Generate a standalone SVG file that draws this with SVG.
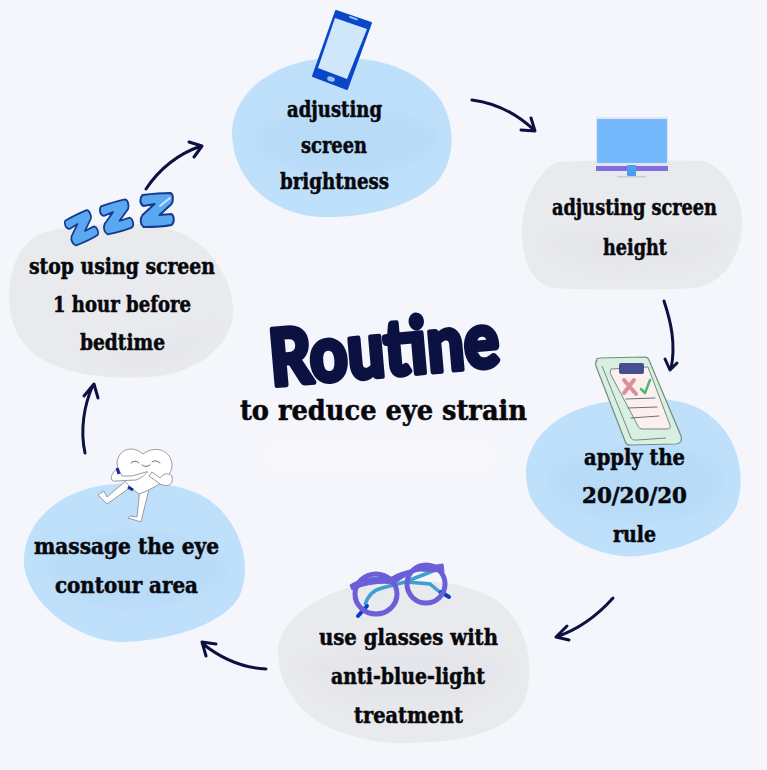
<svg xmlns="http://www.w3.org/2000/svg" width="767" height="770" viewBox="0 0 767 770">
<style>
.blue{fill:#bfe0fa}
.blue2{fill:#b0d6f7;opacity:.4;filter:url(#wash)}
.gray{fill:#e9eaee}
.gray2{fill:#e3e4e9;opacity:.5;filter:url(#wash)}
.t{font-family:"DejaVu Serif","Liberation Serif",serif;font-weight:700;font-size:21.500px;fill:#08080c;stroke:#08080c;stroke-width:.55px}
.arrow{fill:none;stroke:#0d1140;stroke-width:3px;stroke-linecap:round;stroke-linejoin:round}
.z{fill:#5ba8f2;stroke:#16398f;stroke-width:2px;stroke-linejoin:round}
.body{fill:#fff;stroke:#9a9aa6;stroke-width:1px;stroke-linejoin:round}
.thin{fill:none;stroke:#6f6f7c;stroke-width:1px;stroke-linecap:round}
</style>
<defs>
<path id="zed" d="M-14-15C-6-16 6-17 14-17C17-16 17-9 15-6L3 5L15 4C18 6 18 13 15 15C6 17-4 17-13 17C-16 15-17 9-14 5L-2-6L-13-4C-17-6-17-12-14-15Z"/>
<filter id="soft" x="-20%" y="-40%" width="140%" height="180%"><feGaussianBlur stdDeviation="8"/></filter>
<filter id="wash" x="-10%" y="-20%" width="120%" height="140%"><feGaussianBlur stdDeviation="5"/></filter>
</defs>
<rect width="767" height="770" fill="#f4f6fc"/>
<rect x="262" y="436" width="235" height="40" rx="18" fill="#f8f8fb" filter="url(#soft)"/>

<g id="connectors" class="arrow">
<path d="M472 100C495 103 517 114 534 130M521 130L535 131L531 118"/>
<path d="M664 301C671 322 676 344 671 369M665 359L670 370L677 363"/>
<path d="M613 598C596 617 577 630 556 637M567 626L556 637L569 640"/>
<path d="M266 669C244 668 222 659 203 644M216 644L202 642L206 656"/>
<path d="M85 453C80 430 84 405 93 385M84 396L94 384L98 398"/>
<path d="M146 189C160 168 178 154 201 146M189 142L202 146L194 157"/>
</g>

<g id="node-brightness">
<path class="blue" d="M232 135C231 100 262 66 318 59C372 53 420 68 442 102C456 128 455 162 436 183C412 207 365 218 322 217C272 215 234 182 232 135Z"/>
<path class="blue2" d="M250 135C265 115 300 108 340 108C385 108 420 115 440 135C430 160 395 175 340 175C295 175 260 160 250 135Z"/>
<polygon points="336,11 371,23 347,89 313,76" fill="#0a46c8" stroke="#0a46c8" stroke-width="2" stroke-linejoin="round"/>
<polygon points="335,18 367,29 347,79 318,68" fill="#cfe6fb"/>
<rect x="349" y="17" width="9" height="2" rx="1" transform="rotate(20 353 18)" fill="#9cc0f0"/>
<ellipse cx="331" cy="79" rx="4" ry="2.500" transform="rotate(20 331 79)" fill="#9cc0f0"/>
<text class="t" x="334.500" y="117" text-anchor="middle" textLength="95" lengthAdjust="spacingAndGlyphs">adjusting</text>
<text class="t" x="334" y="153" text-anchor="middle" textLength="66" lengthAdjust="spacingAndGlyphs">screen</text>
<text class="t" x="334.500" y="189" text-anchor="middle" textLength="109" lengthAdjust="spacingAndGlyphs">brightness</text>
</g>

<g id="node-height">
<path class="gray" d="M522 232C521 205 536 172 558 162C600 160 660 160 705 161C725 170 742 195 742 222C742 250 728 282 695 288C650 290 600 290 552 288C532 282 522 262 522 232Z"/>
<path class="gray2" d="M545 240C570 228 620 226 640 232C680 228 710 230 725 240C710 262 680 270 640 270C590 272 560 260 545 240Z"/>
<rect x="596" y="117" width="72" height="54" rx="1" fill="#dfe4f6"/>
<rect x="597" y="119" width="70" height="44" rx="1" fill="#75b8fb"/>
<rect x="596" y="166" width="72" height="5" fill="#7e6fdc"/>
<rect x="627" y="165" width="9" height="11" rx="1" fill="#4d9df0"/>
<rect x="617" y="176" width="29" height="1.500" fill="#c9ccd6"/>
<text class="t" x="634.500" y="215" text-anchor="middle" textLength="165" lengthAdjust="spacingAndGlyphs">adjusting screen</text>
<text class="t" x="635" y="255" text-anchor="middle" textLength="64" lengthAdjust="spacingAndGlyphs">height</text>
</g>

<g id="node-rule">
<path class="blue" d="M526 470C528 440 555 412 600 403C640 396 690 394 715 420C738 440 746 475 737 505C725 535 680 550 640 556C600 560 555 535 535 505C528 495 526 485 526 470Z"/>
<path class="blue2" d="M548 478C565 452 610 445 650 445C690 445 715 458 725 480C715 510 685 522 640 522C595 522 560 508 548 478Z"/>
<path d="M597 360Q596 358 600 358L645 357Q648 357 649 360L681 436Q683 443 676 444L630 445Q626 445 625 441L596 366Q595 362 597 360Z" fill="#d8efe2" stroke="#6f8f80" stroke-width="1.200"/>
<path d="M611 369L648 367L670 425Q671 429 667 429L642 429Q639 429 638 426L610 373Z" fill="#fbeff0" stroke="#6f8f80" stroke-width="1"/>
<path d="M602 366L631 438Q633 441 637 440L666 438" fill="none" stroke="#6f8f80" stroke-width="1"/>
<rect x="619" y="363" width="25" height="11" rx="2" fill="#474f93"/>
<path d="M624 380L636 394M634 380L624 393" fill="none" stroke="#d98f98" stroke-width="4" stroke-linecap="round"/>
<path d="M641 389L645 393L650 380" fill="none" stroke="#4fb878" stroke-width="2.500" stroke-linecap="round" stroke-linejoin="round"/>
<path class="thin" d="M626 399L655 398M628 408L657 407M631 418L659 416"/>
<text class="t" x="634.500" y="465" text-anchor="middle" textLength="101" lengthAdjust="spacingAndGlyphs">apply the</text>
<text class="t" x="634.500" y="503" text-anchor="middle" textLength="105" lengthAdjust="spacingAndGlyphs">20/20/20</text>
<text class="t" x="634.500" y="542" text-anchor="middle" textLength="43" lengthAdjust="spacingAndGlyphs">rule</text>
</g>

<g id="node-glasses">
<path class="gray" d="M278 650C280 620 320 590 370 583C420 578 475 580 505 607C528 630 535 670 525 700C510 730 470 742 410 743C360 745 310 725 295 700C283 685 278 670 278 650Z"/>
<path class="gray2" d="M300 665C325 645 380 640 420 645C470 645 500 652 512 670C500 698 460 712 410 714C360 714 315 695 300 665Z"/>
<path d="M365 605C368 595 373 590 382 588L405 582L438 569" fill="none" stroke="#3f9fd0" stroke-width="3.500"/>
<path d="M407 582L430 584L442 594" fill="none" stroke="#3f9fd0" stroke-width="3.500"/>
<path d="M358 616L367 606M441 592L449 597" fill="none" stroke="#0a3cc0" stroke-width="4" stroke-linecap="round"/>
<ellipse cx="376" cy="594" rx="21" ry="20" fill="none" stroke="#6a5fd8" stroke-width="5"/>
<ellipse cx="426" cy="584" rx="19" ry="19" fill="none" stroke="#6a5fd8" stroke-width="5"/>
<path d="M350 585C360 578 378 576 392 577C398 572 420 567 443 564L444 572L420 571C410 572 400 580 394 584C382 582 365 584 352 590Z" fill="#6a5fd8" stroke="#6a5fd8" stroke-width="1" stroke-linejoin="round"/>
<text class="t" x="408.500" y="645" text-anchor="middle" textLength="179" lengthAdjust="spacingAndGlyphs">use glasses with</text>
<text class="t" x="408" y="684" text-anchor="middle" textLength="154" lengthAdjust="spacingAndGlyphs">anti-blue-light</text>
<text class="t" x="408.500" y="723" text-anchor="middle" textLength="109" lengthAdjust="spacingAndGlyphs">treatment</text>
</g>

<g id="node-massage">
<path class="blue" d="M24 565C22 525 55 492 105 485C150 480 200 482 225 515C245 540 250 570 240 595C225 625 170 640 125 642C85 643 30 610 24 565Z"/>
<path class="blue2" d="M45 565C65 540 100 530 140 532C185 530 215 545 228 568C215 595 175 608 130 608C85 608 60 595 45 565Z"/>
<path class="body" d="M131 487L107 504L98 495L104 491L107 497L128 479Z"/>
<path class="body" d="M149 489L141 522L128 518L130 516L137 517L140 488Z"/>
<path class="body" d="M139 494C128 486 117 475 117 462C120 447 134 446 143 454C153 446 170 448 172 464C173 478 155 488 139 494Z"/>
<path class="body" d="M118 468C110 474 109 482 116 481L136 480C142 478 151 470 146 472L132 476L122 476Z"/>
<path class="body" d="M172 476C174 486 167 487 160 484L149 476L152 472L160 478C163 474 168 472 172 476Z"/>
<path d="M117 468L119 474M128 487L133 490" fill="none" stroke="#1a2b9a" stroke-width="3"/>
<path class="thin" d="M131 463Q135 459 139 463M142 465Q146 468 150 465M152 462Q156 459 160 463"/>
<text class="t" x="126.500" y="554" text-anchor="middle" textLength="185" lengthAdjust="spacingAndGlyphs">massage the eye</text>
<text class="t" x="126.500" y="593" text-anchor="middle" textLength="143" lengthAdjust="spacingAndGlyphs">contour area</text>
</g>

<g id="node-bedtime">
<path class="gray" d="M9 300C8 270 20 240 45 232C90 222 150 218 185 235C215 250 235 285 233 315C230 345 200 370 160 376C125 380 70 378 40 358C20 345 10 325 9 300Z"/>
<path class="gray2" d="M90 360C130 345 180 340 215 325C205 350 180 365 140 370Z"/>
<use href="#zed" class="z" transform="translate(156.500 210)"/>
<use href="#zed" class="z" transform="translate(116 217) rotate(-12) scale(.9)"/>
<use href="#zed" class="z" transform="translate(81 228) rotate(-22) scale(.85)"/>
<path d="M160 206L170 198" stroke="#cfe6fb" stroke-width="2" stroke-linecap="round" fill="none"/>
<text class="t" x="122" y="274" text-anchor="middle" textLength="186" lengthAdjust="spacingAndGlyphs">stop using screen</text>
<text class="t" x="122" y="312" text-anchor="middle" textLength="138" lengthAdjust="spacingAndGlyphs">1 hour before</text>
<text class="t" x="122.500" y="350" text-anchor="middle" textLength="85" lengthAdjust="spacingAndGlyphs">bedtime</text>
</g>

<g id="title">
<text transform="rotate(-5 384 350)" x="384" y="376" text-anchor="middle" textLength="230" lengthAdjust="spacingAndGlyphs" font-family="Lato,'Noto Sans',sans-serif" font-weight="900" font-size="78" fill="#0b1140" stroke="#0b1140" stroke-width="5" stroke-linejoin="round">Routine</text>
<text class="t" x="383.500" y="420" text-anchor="middle" textLength="287" lengthAdjust="spacingAndGlyphs" style="font-size:28px">to reduce eye strain</text>
</g>
</svg>
